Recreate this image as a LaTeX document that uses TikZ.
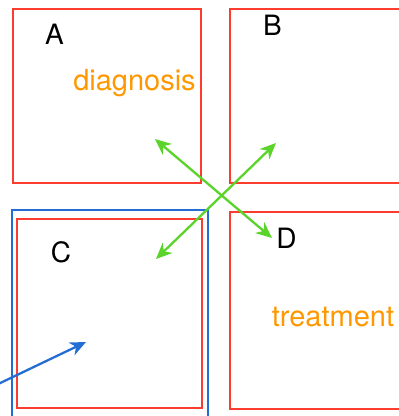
\documentclass[tikz,border=0pt]{standalone}
\usepackage{fontspec}
\setmainfont{TeX Gyre Heros}
\usetikzlibrary{arrows.meta}

\definecolor{boxred}{RGB}{252,60,48}
\definecolor{frameblue}{RGB}{34,110,212}
\definecolor{linkgreen}{RGB}{90,212,42}
\definecolor{noteorange}{RGB}{255,152,0}

\tikzset{
  panel/.style={draw=boxred, line width=2.4pt, fill=none},
  group/.style={draw=frameblue, line width=2.4pt, fill=none},
  letter/.style={text=black, font=\fontsize{28}{28}\selectfont, inner sep=0pt, anchor=base},
  note/.style={text=noteorange, font=\fontsize{29}{29}\selectfont, inner sep=0pt, anchor=base},
  headtip/.tip={Stealth[length=16pt, width=14pt, inset=5pt]},
  link/.style={draw=linkgreen, line width=2.3pt, {headtip}-{headtip}},
  feed/.style={draw=frameblue, line width=2.3pt, -{headtip}},
}

\begin{document}
\begin{tikzpicture}[x=1pt, y=-1pt]
  \useasboundingbox (0,0) rectangle (399,416);
  \clip (0,0) rectangle (399,416);

  % four panels (B and D run past the right edge)
  \path[panel] (13,9) rectangle (201,183);
  \path[panel] (230,9) rectangle (425,183);
  \path[panel] (17,219) rectangle (202,408);
  \path[panel] (230,212) rectangle (425,409);
  % frame around C
  \path[group] (12,210) rectangle (208,430);

  % panel letters and notes
  \node[letter] (la) at (54.5,44) {A};
  \node[letter] (lb) at (272.5,35.5) {B};
  \node[letter] (lc) at (61,262) {C};
  \node[letter] (ld) at (286.5,248) {D};
  \node[note] (diag) at (134.5,90.5) {diagnosis};
  \node[note] (treat) at (333,326.5) {treatment};

  % arrow end points
  \coordinate (aEnd) at (155,139);
  \coordinate (dEnd) at (272,238);
  \coordinate (bEnd) at (276,143);
  \coordinate (cEnd) at (156,259);
  \coordinate (inStart) at (-6,386);
  \coordinate (inEnd) at (86,342);

  % crossing links
  \path[link] (aEnd) -- (dEnd);
  \path[link] (bEnd) -- (cEnd);
  % incoming arrow into C
  \path[feed] (inStart) -- (inEnd);
\end{tikzpicture}
\end{document}
